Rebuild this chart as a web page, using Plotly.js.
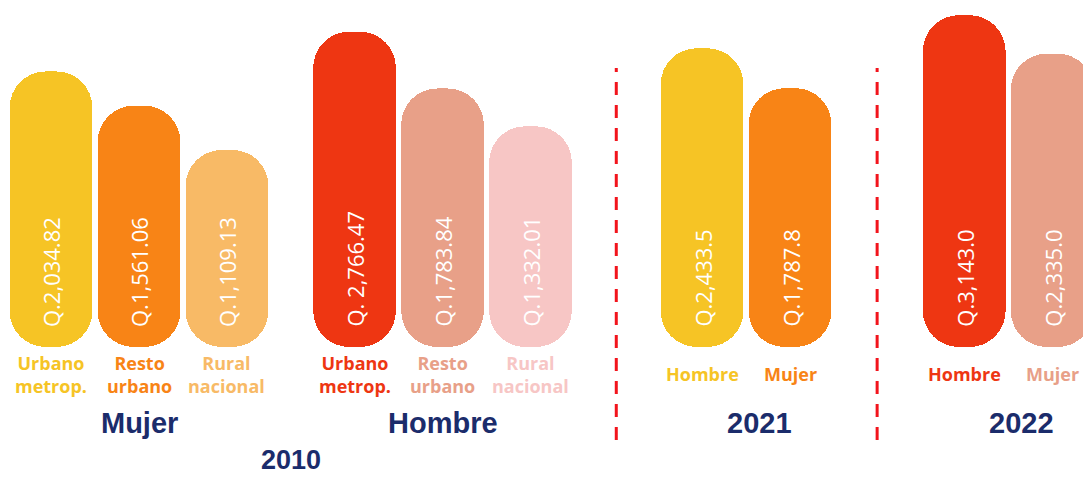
<!DOCTYPE html>
<html>
<head>
<meta charset="utf-8">
<script src="https://cdn.plot.ly/plotly-3.0.1.min.js"></script>
<style>
  html, body { margin: 0; padding: 0; background: #ffffff; }
  #chart { width: 1083px; height: 477px; }
</style>
</head>
<body>
<div id="chart"></div>
<script>
// Ingreso promedio (quetzales)
var areas2010 = ["Urbano<br>metrop.", "Resto<br>urbano", "Rural<br>nacional"];
var mujer2010 = [2034.82, 1561.06, 1109.13];
var hombre2010 = [2766.47, 1783.84, 1332.01];
var mujer2010Text = ["Q.2,034.82", "Q.1,561.06", "Q.1,109.13"];
var hombre2010Text = ["Q. 2,766.47", "Q.1,783.84", "Q.1,332.01"];

var sexos = ["Hombre", "Mujer"];
var valores2021 = [2433.5, 1787.8];
var valores2022 = [3143.0, 2335.0];
var texto2021 = ["Q.2,433.5", "Q.1,787.8"];
var texto2022 = ["Q.3,143.0", "Q.2,335.0"];

var yellow = "#F6C425", orange = "#F88416", lightOrange = "#F8BA66";
var red = "#EE3612", salmon = "#E8A088", pink = "#F7C6C5";
var navy = "#1B2C6B";

var groups = [
  {name: "Mujer", cats: areas2010, vals: mujer2010, text: mujer2010Text,
   colors: [yellow, orange, lightOrange], start: 0},
  {name: "Hombre", cats: areas2010, vals: hombre2010, text: hombre2010Text,
   colors: [red, salmon, pink], start: 3.45},
  {name: "2021", cats: sexos, vals: valores2021, text: texto2021,
   colors: [yellow, orange], start: 7.4},
  {name: "2022", cats: sexos, vals: valores2022, text: texto2022,
   colors: [red, salmon], start: 10.38}
];

// bars are drawn from a common base on a log scale
var BASE = 242;
var plotH = 347;
var pxPerDecade = 298;
var yRange = [Math.log10(BASE), Math.log10(BASE) + plotH / pxPerDecade];

var data = [];
var annotations = [];

groups.forEach(function(g) {
  var xs = g.vals.map(function(v, i) { return g.start + i; });
  data.push({
    type: "bar",
    name: g.name,
    x: xs,
    y: g.vals.map(function(v) { return v - BASE; }),
    base: BASE,
    width: 0.94,
    marker: {color: g.colors, cornerradius: 36, line: {width: 0}},
    showlegend: false,
    hoverinfo: "skip"
  });

  xs.forEach(function(x, i) {
    // value inside bar
    annotations.push({
      x: x, y: Math.log10(BASE), xref: "x", yref: "y",
      text: g.text[i], textangle: -90, showarrow: false,
      xanchor: "center", yanchor: "bottom", yshift: 18,
      font: {family: "Open Sans", size: 22, color: "#ffffff"}
    });
    // category label under bar
    annotations.push({
      x: x, y: 0, xref: "x", yref: "paper",
      text: g.cats[i], showarrow: false,
      xanchor: "center", yanchor: "middle", yshift: -27,
      font: {family: "Open Sans", size: 18, weight: "bold", color: g.colors[i]}
    });
  });

  var center = g.start + (g.vals.length - 1) / 2;
  annotations.push({
    x: center + (g.cats === sexos ? 0.15 : 0), y: 0, xref: "x", yref: "paper",
    text: g.name, showarrow: false,
    xanchor: "center", yanchor: "middle", yshift: -76,
    font: {family: "Liberation Sans, Arial", size: 29, weight: "bold", color: navy}
  });
});

// año 2010 under both groups
annotations.push({
  x: (groups[0].start + 1 + groups[1].start + 1) / 2, y: 0, xref: "x", yref: "paper",
  text: "2010", showarrow: false, borderpad: 0,
  xanchor: "center", yanchor: "middle", yshift: -113,
  font: {family: "Liberation Sans, Arial", size: 27, weight: "bold", color: navy}
});

// dashed separators between periods
var sep1 = (groups[1].start + 2 + groups[2].start) / 2;
var sep2 = (groups[2].start + 1 + groups[3].start) / 2;
var shapes = [sep1, sep2].map(function(sx) {
  return {
    type: "line", xref: "x", yref: "paper",
    x0: sx, x1: sx, y0: -0.268, y1: 0.804,
    line: {color: "#F2141C", width: 3, dash: "13px,10px"}
  };
});

var layout = {
  width: 1083,
  height: 477,
  margin: {l: 0, r: 0, t: 0, b: 130, pad: 0},
  paper_bgcolor: "#ffffff",
  plot_bgcolor: "#ffffff",
  xaxis: {range: [-0.58, 11.73], visible: false, fixedrange: true},
  yaxis: {type: "log", range: yRange, visible: false, fixedrange: true},
  bargap: 0,
  annotations: annotations,
  shapes: shapes,
  hovermode: false
};

Plotly.newPlot("chart", data, layout, {displayModeBar: false, staticPlot: true});
</script>
</body>
</html>
